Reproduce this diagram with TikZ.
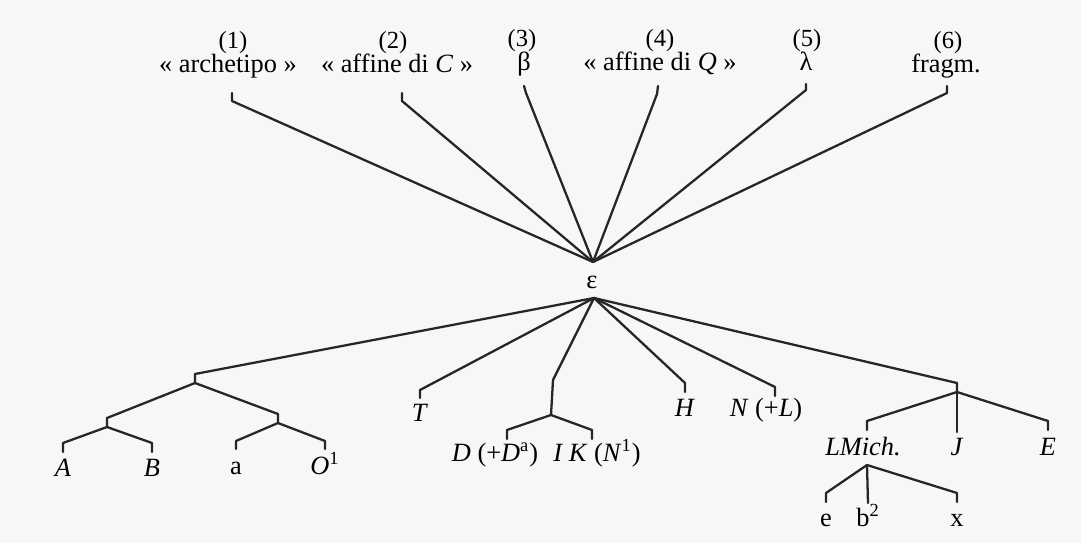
\documentclass[tikz,border=0pt]{standalone}
\usepackage{fontspec}
\setmainfont{Liberation Serif}
\usetikzlibrary{positioning}
\tikzset{
  wit/.style={inner sep=0pt,anchor=base,font=\fontsize{15}{17}\selectfont},
  num/.style={inner sep=0pt,anchor=base,font=\fontsize{14}{16}\selectfont},
  branch/.style={line width=1.3pt,draw=black!85,line join=round,line cap=round},
}

\begin{document}
\begin{tikzpicture}[x=0.02cm,y=-0.02cm]
  \fill[black!3] (0,0) rectangle (1081,543);
  \useasboundingbox (0,0) rectangle (1081,543);
  % upper witnesses
  \node[num] (n1) at (233,49) {(1)};
  \node[wit] (w1) at (228,73) {« archetipo »};
  \node[num] (n2) at (393,49) {(2)};
  \node[wit] (w2) at (397,73) {« affine di \textit{C} »};
  \node[num] (n3) at (522,47) {(3)};
  \node[wit] (w3) at (524,71) {β};
  \node[num] (n4) at (660,47) {(4)};
  \node[wit] (w4) at (660,71) {« affine di \textit{Q} »};
  \node[num] (n5) at (807,47) {(5)};
  \node[wit] (w5) at (806,71) {λ};
  \node[num] (n6) at (948,49) {(6)};
  \node[wit] (w6) at (946,73) {fragm.};
  \coordinate (u1) at (232,93);  \coordinate (v1) at (232,101);
  \coordinate (u2) at (402,93);  \coordinate (v2) at (402,101);
  \coordinate (u3) at (524,86);  \coordinate (v3) at (526,93);
  \coordinate (u4) at (658,86);  \coordinate (v4) at (657,94);
  \coordinate (u5) at (806,84);  \coordinate (v5) at (806,90);
  \coordinate (u6) at (947,86);  \coordinate (v6) at (947,93);
  \coordinate (top) at (593,262);
  \node[wit] (eps) at (592,289) {ε};
  \coordinate (bot) at (594,298);
  \draw[branch] (u1) -- (v1) -- (top);
  \draw[branch] (u2) -- (v2) -- (top);
  \draw[branch] (u3) -- (v3) -- (top);
  \draw[branch] (u4) -- (v4) -- (top);
  \draw[branch] (u5) -- (v5) -- (top);
  \draw[branch] (u6) -- (v6) -- (top);
  % lower witnesses
  \coordinate (g1) at (195,374); \coordinate (g1b) at (195,383);
  \coordinate (g2) at (107,418); \coordinate (g2b) at (107,427);
  \coordinate (g3) at (278,414); \coordinate (g3b) at (278,423);
  \coordinate (pA) at (63,443);  \coordinate (qA) at (63,452);
  \coordinate (pB) at (152,443); \coordinate (qB) at (152,452);
  \coordinate (pa) at (236,441); \coordinate (qa) at (236,449);
  \coordinate (pO) at (325,441); \coordinate (qO) at (325,449);
  \node[wit] (A) at (63,476) {\textit{A}};
  \node[wit] (B) at (152,476) {\textit{B}};
  \node[wit] (a) at (236,474) {a};
  \node[wit] (O) at (325,474) {\textit{O}\textsuperscript{1}};
  \draw[branch] (bot) -- (g1) -- (g1b);
  \draw[branch] (g1b) -- (g2) -- (g2b);
  \draw[branch] (g1b) -- (g3) -- (g3b);
  \draw[branch] (g2b) -- (pA) -- (qA);
  \draw[branch] (g2b) -- (pB) -- (qB);
  \draw[branch] (g3b) -- (pa) -- (qa);
  \draw[branch] (g3b) -- (pO) -- (qO);
  \coordinate (pT) at (420,390); \coordinate (qT) at (420,398);
  \node[wit] (T) at (420,421) {\textit{T}};
  \draw[branch] (bot) -- (pT) -- (qT);
  \coordinate (gD) at (553,380); \coordinate (gDb) at (551,415);
  \coordinate (pD) at (507,430); \coordinate (qD) at (507,439);
  \coordinate (pI) at (592,430); \coordinate (qI) at (592,439);
  \node[wit] (D) at (495,461) {\textit{D} (+\textit{D}\textsuperscript{a})};
  \node[wit] (IK) at (597,461) {\textit{I K} (\textit{N}\textsuperscript{1})};
  \draw[branch] (bot) -- (gD) -- (gDb);
  \draw[branch] (gDb) -- (pD) -- (qD);
  \draw[branch] (gDb) -- (pI) -- (qI);
  \coordinate (pH) at (685,383); \coordinate (qH) at (685,392);
  \node[wit] (H) at (685,417) {\textit{H}};
  \draw[branch] (bot) -- (pH) -- (qH);
  \coordinate (pN) at (775,387); \coordinate (qN) at (775,396);
  \node[wit] (N) at (766,417) {\textit{N} (+\textit{L})};
  \draw[branch] (bot) -- (pN) -- (qN);
  \coordinate (gJ) at (957,383); \coordinate (gJb) at (957,392);
  \coordinate (pL) at (867,421); \coordinate (qL) at (867,430);
  \coordinate (qJ) at (957,432);
  \coordinate (pE) at (1048,421); \coordinate (qE) at (1048,430);
  \node[wit] (LM) at (863,456) {\textit{LMich.}};
  \node[wit] (J) at (957,456) {\textit{J}};
  \node[wit] (E) at (1048,456) {\textit{E}};
  \draw[branch] (bot) -- (gJ) -- (gJb);
  \draw[branch] (gJb) -- (pL) -- (qL);
  \draw[branch] (gJb) -- (qJ);
  \draw[branch] (gJb) -- (pE) -- (qE);
  \coordinate (gL) at (867,465);
  \coordinate (pe) at (826,493); \coordinate (qe) at (826,502);
  \coordinate (qb) at (868,503);
  \coordinate (px) at (957,493); \coordinate (qx) at (957,502);
  \node[wit] (e) at (826,526) {e};
  \node[wit] (b2) at (868,526) {b\textsuperscript{2}};
  \node[wit] (x) at (957,526) {x};
  \draw[branch] (gL) -- (pe) -- (qe);
  \draw[branch] (gL) -- (qb);
  \draw[branch] (gL) -- (px) -- (qx);
\end{tikzpicture}
\end{document}
